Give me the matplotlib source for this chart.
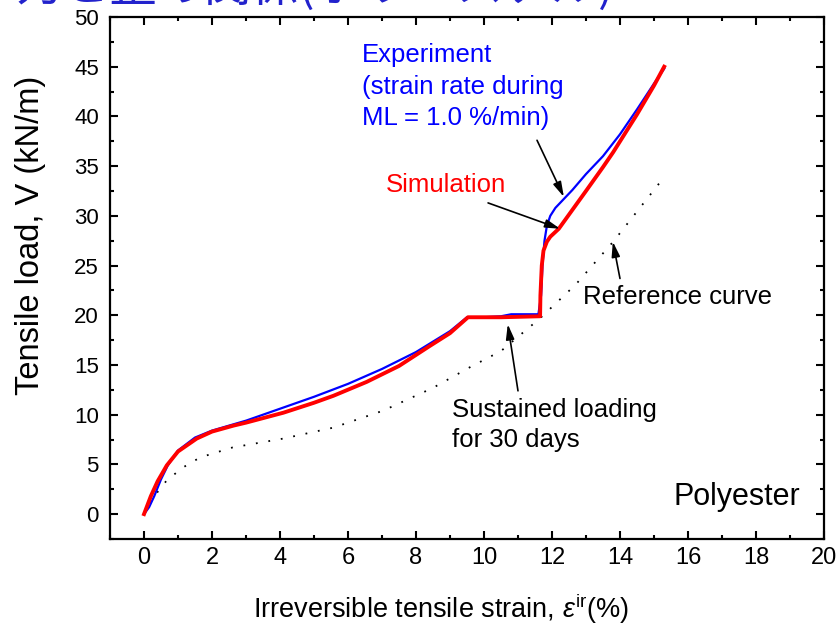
import matplotlib
matplotlib.use('Agg')
import matplotlib.pyplot as plt
from matplotlib.ticker import MultipleLocator

plt.rcParams['font.family'] = ['Liberation Sans', 'DejaVu Sans']
plt.rcParams['mathtext.fontset'] = 'custom'
plt.rcParams['mathtext.rm'] = 'Liberation Sans'
plt.rcParams['mathtext.it'] = 'Liberation Sans:italic'

# experiment (blue)
exp_x = [0, 0.15, 0.3, 0.5, 0.7, 1.0, 1.5, 2.0, 2.5, 3, 4, 5, 6, 7, 8, 9, 9.5,
         10.0, 10.5, 10.8, 11.2, 11.6, 11.68, 11.72, 11.78, 11.85, 11.95, 12.1,
         12.35, 12.6, 13, 13.5, 14, 14.5, 15, 15.3]
exp_y = [0, 0.7, 1.8, 3.5, 4.9, 6.4, 7.7, 8.4, 8.9, 9.4, 10.6, 11.8, 13.1, 14.6,
         16.3, 18.4, 19.8, 19.8, 19.9, 20.1, 20.1, 20.1, 22, 25, 27.5, 29, 30.0,
         30.8, 31.7, 32.6, 34.2, 36.0, 38.2, 40.7, 43.3, 44.8]

# simulation (red)
sim_x = [0, 0.2, 0.4, 0.67, 1.0, 1.55, 2.0, 2.63, 3.0, 4.1, 5.0, 5.57, 6.55,
         7.5, 8.4, 9.0, 9.53, 10.5, 11.65, 11.66, 11.7, 11.75, 11.85, 11.95,
         12.2, 12.6, 13.0, 13.5, 13.8, 14.5, 15.0, 15.3]
sim_y = [0, 1.8, 3.3, 4.9, 6.3, 7.6, 8.3, 8.9, 9.2, 10.2, 11.2, 11.9, 13.3,
         14.9, 16.9, 18.2, 19.8, 19.8, 19.9, 22, 25, 26.5, 27.4, 27.9, 28.7,
         30.6, 32.5, 34.9, 36.4, 40.2, 43.1, 45.0]

# reference curve (dotted)
ref_x = [0, 0.3, 0.67, 1.15, 1.65, 2.6, 4.1, 5.57, 7.03, 8.5, 9.6, 10.5, 11.65,
         12.7, 13.8, 15.3]
ref_y = [0, 1.8, 3.4, 4.7, 5.7, 6.7, 7.6, 8.7, 10.4, 12.7, 14.8, 16.4, 19.7,
         23.1, 27.4, 33.9]

fig = plt.figure(figsize=(8.36, 6.27), dpi=100)
ax = fig.add_axes([0.1316, 0.1404, 0.854, 0.8325])

ax.plot(ref_x, ref_y, color='black', lw=1.3, linestyle=(0, (1, 6)))
ax.plot(exp_x, exp_y, color='#0000ff', lw=1.6)
ax.plot(sim_x, sim_y, color='#ff0000', lw=2.8)

ax.set_xlim(-1, 20)
ax.set_ylim(-2.5, 50)
ax.xaxis.set_major_locator(MultipleLocator(2))
ax.xaxis.set_minor_locator(MultipleLocator(1))
ax.yaxis.set_major_locator(MultipleLocator(5))
ax.yaxis.set_minor_locator(MultipleLocator(2.5))
ax.tick_params(which='both', direction='in', top=True, right=True, width=1.5)
ax.tick_params(which='major', length=6)
ax.tick_params(which='minor', length=3)
ax.tick_params(axis='y', labelsize=16, pad=8)
ax.tick_params(axis='x', labelsize=17, pad=6)
for s in ax.spines.values():
    s.set_linewidth(1.6)

ax.set_ylabel('Tensile load, V (kN/m)', fontsize=23.5)
ax.yaxis.set_label_coords(-0.09, 0.582)
ax.set_xlabel(r'Irreversible tensile strain, $\varepsilon^{\mathrm{ir}}$(%)',
              fontsize=19.5)
ax.xaxis.set_label_coords(0.4636, -0.10)

arr = dict(arrowstyle='-|>,head_length=0.9,head_width=0.25', color='black',
           lw=1.2, shrinkA=0, shrinkB=0)

ax.text(6.41, 43.0, 'Experiment\n(strain rate during\nML = 1.0 %/min)',
        color='#0000ff', fontsize=18.5, va='center', ha='left', linespacing=1.4)
ax.annotate('', xy=(12.35, 31.9), xytext=(11.56, 37.6), arrowprops=arr)

ax.text(7.12, 33.1, 'Simulation', color='#ff0000', fontsize=18.5, va='center')
ax.annotate('', xy=(12.24, 28.7), xytext=(10.12, 31.3), arrowprops=arr)

ax.text(12.9, 21.8, 'Reference curve', color='black', fontsize=18.5, va='center')
ax.annotate('', xy=(13.79, 27.4), xytext=(14.0, 23.7), arrowprops=arr)

ax.text(9.06, 8.95, 'Sustained loading\nfor 30 days', color='black', fontsize=18.5,
        va='center', linespacing=1.3)
ax.annotate('', xy=(10.7, 19.1), xytext=(11.0, 12.4), arrowprops=arr)

ax.text(19.3, 1.7, 'Polyester', fontsize=22, ha='right', va='center')

# title cut off at top of the slide
fig.text(0.018, 0.998, '力と歪の関係(ポリエステル)', color='#2222cc', fontsize=34,
         family=['Noto Sans CJK JP', 'DejaVu Sans'], va='baseline', ha='left')

fig.savefig('out.png', dpi=100)
